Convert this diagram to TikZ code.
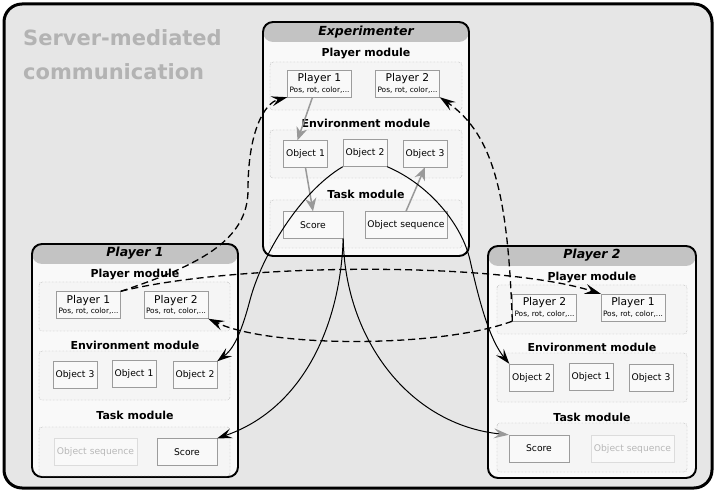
\documentclass[tikz,border=0pt]{standalone}
\usepackage{fontspec}
\setmainfont{DejaVu Sans}
\usetikzlibrary{arrows.meta}

\definecolor{bggray}{HTML}{E6E6E6}
\definecolor{panelfill}{HTML}{F9F9F9}
\definecolor{headgray}{HTML}{C3C3C3}
\definecolor{modfill}{HTML}{F5F5F5}
\definecolor{dotgray}{HTML}{8A8A8A}
\definecolor{entgray}{HTML}{9C9C9C}
\definecolor{fadedraw}{HTML}{DCDCDC}
\definecolor{fadetext}{HTML}{B8B8B8}
\definecolor{titlegray}{HTML}{B3B3B3}
\definecolor{arrowgray}{HTML}{999999}

\tikzset{
	panelbox/.style={draw, line width=1.9pt, fill=panelfill, rounded corners=10pt,
		path picture={\fill[headgray] ([yshift=2pt]path picture bounding box.north west) rectangle ([yshift=-20pt]path picture bounding box.north east);}},
	paneltitle/.style={font=\fontsize{12.5}{14}\selectfont\bfseries\itshape},
	modbox/.style={draw=dotgray, densely dotted, fill=modfill, rounded corners=3pt},
	modlabel/.style={font=\fontsize{11}{12}\selectfont\bfseries},
	entity/.style={draw=entgray, fill=panelfill, inner sep=0pt, minimum height=27pt, font=\fontsize{9.2}{11}\selectfont},
	playerent/.style={entity, minimum width=64pt, align=center, font=\fontsize{10.7}{11.5}\selectfont},
	objent/.style={entity, minimum width=44pt},
	faded/.style={draw=fadedraw, text=fadetext},
	netlink/.style={-{Stealth[length=16pt,width=10pt,inset=6pt]}, line width=1.3pt, dash pattern=on 7pt off 4pt},
	synclink/.style={-{Stealth[length=15pt,width=10pt,inset=6pt]}, line width=1pt},
	locallink/.style={-{Stealth[length=13pt,width=11pt,inset=4pt]}, draw=arrowgray, line width=1.5pt}
}

\newcommand{\posline}{\\[-1pt]{\fontsize{7.4}{8}\selectfont Pos, rot, color,...}}

\begin{document}
\begin{tikzpicture}[x=1pt,y=-1pt]
	\useasboundingbox (0,0) rectangle (716,492);
	\draw[line width=3pt, fill=bggray, rounded corners=18pt] (4,4) rectangle (712,488);
	\node[anchor=north west, inner sep=0pt, align=left, text=titlegray, font=\fontsize{21}{34}\selectfont\bfseries] (srvtitle) at (23,29) {Server-mediated\\communication};

	% Experimenter
	\draw[panelbox] (263,22) rectangle (469,256);
	\node[paneltitle] (expttl) at (366,32) {Experimenter};
	\draw[modbox] (270,62) rectangle (462,110) (270,130) rectangle (462,178) (270,200) rectangle (462,248);
	\node[modlabel] (expml1) at (366,54) {Player module};
	\node[modlabel] (expml2) at (366,123) {Environment module};
	\node[modlabel] (expml3) at (366,194) {Task module};
	\node[playerent] (eP1) at (319.5,83.5) {Player 1\posline};
	\node[playerent] (eP2) at (407.5,83.5) {Player 2\posline};
	\node[objent] (eo1) at (305.5,154) {Object 1};
	\node[objent] (eo2) at (365,153) {Object 2};
	\node[objent] (eo3) at (425,153.5) {Object 3};
	\node[entity, minimum width=60pt] (eSc) at (313,225) {Score};
	\node[entity, minimum width=82pt] (eOs) at (406,225) {Object sequence};

	% Player 1
	\draw[panelbox] (32,244) rectangle (238,477);
	\node[paneltitle] (p1ttl) at (135,253) {Player 1};
	\draw[modbox] (39,282) rectangle (230,331) (39,351) rectangle (230,400) (39,427) rectangle (230,476);
	\node[modlabel] (p1ml1) at (135,275) {Player module};
	\node[modlabel] (p1ml2) at (135,345) {Environment module};
	\node[modlabel] (p1ml3) at (135,415) {Task module};
	\node[playerent] (aP1) at (88.5,305) {Player 1\posline};
	\node[playerent] (aP2) at (176,305) {Player 2\posline};
	\node[objent] (ao3) at (75,375) {Object 3};
	\node[objent] (ao1) at (134,374) {Object 1};
	\node[objent] (ao2) at (195,375) {Object 2};
	\node[entity, faded, minimum width=83pt] (aOs) at (95.5,452) {Object sequence};
	\node[entity, minimum width=60pt] (aSc) at (187,452) {Score};

	% Player 2
	\draw[panelbox] (488,246) rectangle (696,478);
	\node[paneltitle] (p2ttl) at (592,255) {Player 2};
	\draw[modbox] (497,285) rectangle (687,334) (497,353) rectangle (687,402) (497,423) rectangle (687,472);
	\node[modlabel] (p2ml1) at (592,278) {Player module};
	\node[modlabel] (p2ml2) at (592,347) {Environment module};
	\node[modlabel] (p2ml3) at (592,417) {Task module};
	\node[playerent] (bP2) at (544.5,307.5) {Player 2\posline};
	\node[playerent] (bP1) at (633,307.5) {Player 1\posline};
	\node[objent] (bo2) at (531.5,377.5) {Object 2};
	\node[objent] (bo1) at (591,376.5) {Object 1};
	\node[objent] (bo3) at (651,377.5) {Object 3};
	\node[entity, minimum width=60pt] (bSc) at (539,448.5) {Score};
	\node[entity, faded, minimum width=83pt] (bOs) at (632.5,448.5) {Object sequence};

	% inside the experimenter
	\draw[locallink] ([xshift=-7pt]eP1.south) -- ([xshift=-8pt]eo1.north);
	\draw[locallink] (eo1.south) -- (eSc.north);
	\draw[locallink] (eOs.north) -- (eo3.south);

	% player states
	\draw[netlink] (aP1.north east) .. controls (200,265) and (248,240) .. (248,190)
		.. controls (248,130) and (265,103) .. (eP1.south west);
	\draw[netlink] (aP1.north east) .. controls (240,262) and (500,262) .. (bP1.north west);
	\draw[netlink] (bP2.south west) .. controls (508,200) and (495,135) .. (eP2.south east);
	\draw[netlink] (bP2.south west) .. controls (440,348) and (270,348) .. (aP2.south east);

	% environment and task
	\draw[synclink] (eo2.south west) .. controls (300,192) and (262,255) .. (250,300)
		.. controls (240,338) and (232,350) .. (ao2.north east);
	\draw[synclink] (eo2.south east) .. controls (430,185) and (462,225) .. (470,260)
		.. controls (480,305) and (490,340) .. (bo2.north west);
	\draw[synclink] (eSc.south east) .. controls (340,330) and (300,410) .. (aSc.north east);
	\draw[synclink, -{Stealth[length=15pt,width=10pt,inset=6pt,color=arrowgray]}] (eSc.south east) .. controls (345,340) and (410,425) .. (bSc.north west);
\end{tikzpicture}
\end{document}
